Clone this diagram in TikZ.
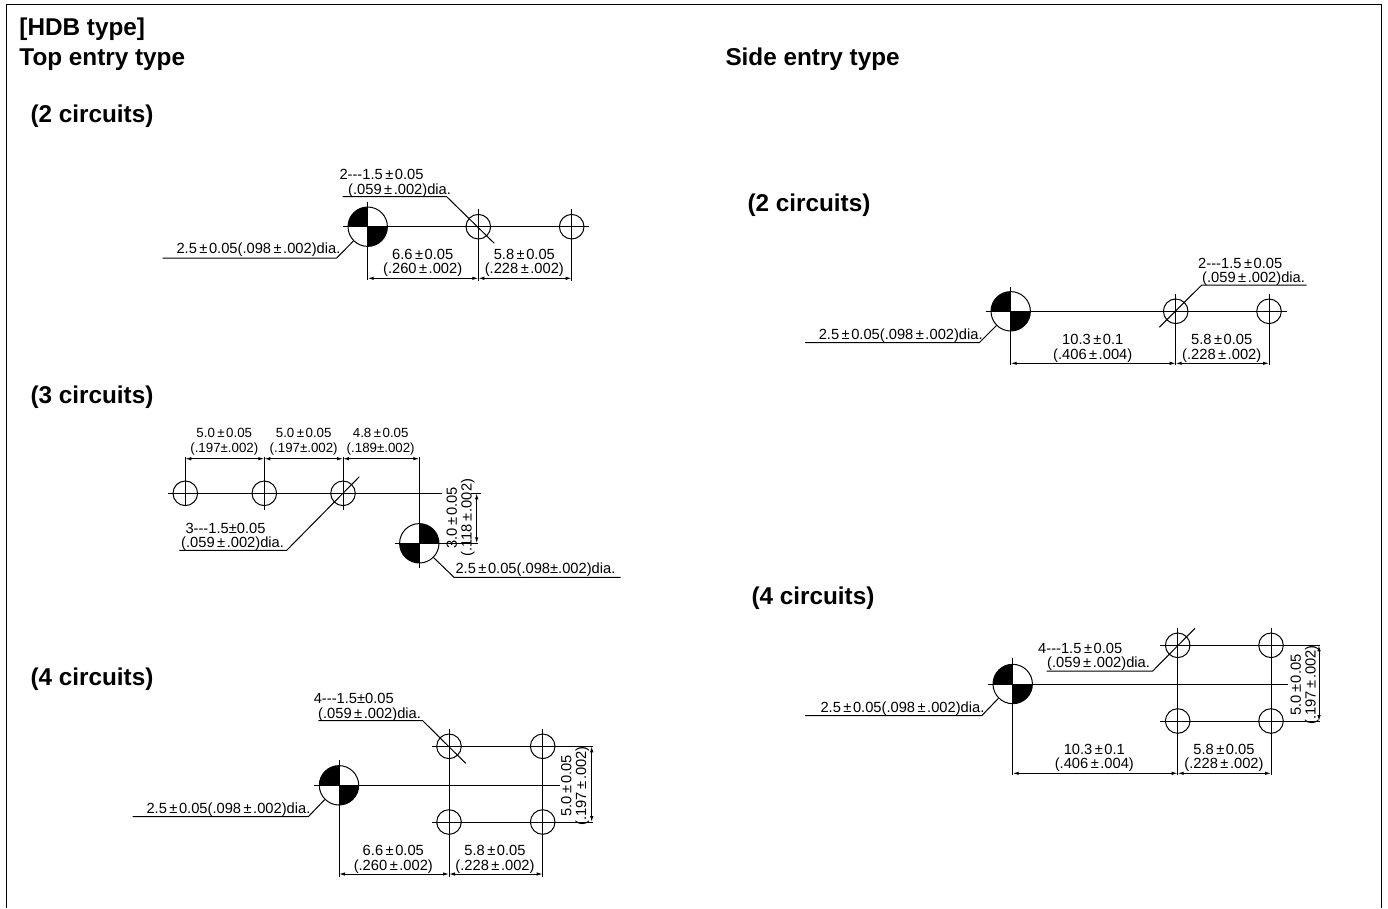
\documentclass[tikz,border=0pt]{standalone}
\usepackage{fontspec}
\setmainfont{Liberation Sans}
\usetikzlibrary{arrows.meta}
\tikzstyle{hole}=[circle, draw, inner sep=0pt, minimum size=24.6pt]
\tikzstyle{datum}=[circle, draw, inner sep=0pt, minimum size=39.4pt]
\tikzstyle{datumtl}=[datum, path picture={
  \fill (path picture bounding box.center) rectangle (path picture bounding box.north west);
  \fill (path picture bounding box.center) rectangle (path picture bounding box.south east);}]
\tikzstyle{datumtr}=[datum, path picture={
  \fill (path picture bounding box.center) rectangle (path picture bounding box.north east);
  \fill (path picture bounding box.center) rectangle (path picture bounding box.south west);}]
\tikzstyle{heading}=[anchor=base west, inner sep=0pt, font=\fontsize{24.3}{24.3}\selectfont\bfseries]
\tikzstyle{vertext}=[inner sep=0pt, align=center, rotate=90, font=\fontsize{14.7}{14.7}\selectfont]
\tikzstyle{dimtext}=[inner sep=0pt, align=center, yshift=-1.5pt, font=\fontsize{14.7}{14.7}\selectfont]
\tikzstyle{smalltext}=[dimtext, font=\fontsize{13.3}{14.7}\selectfont]
\tikzstyle{lefttext}=[dimtext, anchor=west]
\tikzstyle{dimline}=[{Latex[length=6pt,width=3.5pt]}-{Latex[length=6pt,width=3.5pt]}]
\newcommand{\hole}{\node[hole]}
\newcommand{\pmk}{\kern2.5pt±\kern1.5pt}
\newcommand{\tri}{-{}-{}-}
\begin{document}
\begin{tikzpicture}[x=1pt, y=-1pt, line width=1pt]
\useasboundingbox (0,0) rectangle (1388,908);
% frame
\coordinate (fa) at (6,908);
\coordinate (fb) at (6,4.5);
\coordinate (fc) at (1381.3,4.5);
\coordinate (fd) at (1381.3,908);
\draw (fa) -- (fb) -- (fc) -- (fd);
% headings
\node[heading] (hdb) at (19,35) {[HDB type]};
\node[heading] (top) at (19,65) {Top entry type};
\node[heading] (side) at (725,65) {Side entry type};
\node[heading] (ta) at (30,122.5) {(2 circuits)};
\node[heading] (tb) at (30,403) {(3 circuits)};
\node[heading] (tc) at (30,685) {(4 circuits)};
\node[heading] (sa) at (747,211) {(2 circuits)};
\node[heading] (sc) at (751,604) {(4 circuits)};

% top entry, 2 circuits
\node[datumtl] (a0) at (367.7,226.7) {};
\hole (a1) at (478.3,226.7) {};
\hole (a2) at (571.7,226.7) {};
\coordinate (acl) at (342.7,226.7);
\coordinate (acr) at (589.3,226.7);
\coordinate (a0t) at (367.7,201.7);
\coordinate (a0b) at (367.7,280);
\coordinate (a1t) at (478.3,209);
\coordinate (a1b) at (478.3,281);
\coordinate (a2t) at (571.7,209);
\coordinate (a2b) at (571.7,281);
\coordinate (ad0) at (367.7,278.3);
\coordinate (ad1) at (478.3,278.3);
\coordinate (ad2) at (571.7,278.3);
\coordinate (ala) at (342.7,196.7);
\coordinate (alb) at (446.7,196.7);
\coordinate (alc) at (494.3,243.3);
\coordinate (ald) at (162.7,258);
\coordinate (ale) at (336.7,258);
\path
(acl) edge (acr)
(a0t) edge (a0b)
(a1t) edge (a1b)
(a2t) edge (a2b)
(ad0) edge[dimline] (ad1)
(ad1) edge[dimline] (ad2)
;
\draw (ala) -- (alb) -- (alc);
\draw (ald) -- (ale) -- (a0.225);
\node[lefttext] (at1) at (339,173) {2\tri1.5\pmk0.05};
\node[lefttext] (at2) at (347.7,188.7) {(.059\pmk.002)dia.};
\node[lefttext] (at3) at (176,248) {2.5\pmk0.05(.098\pmk.002)dia.};
\node[dimtext] (at4) at (422.7,261.3) {6.6\pmk0.05\\(.260\pmk.002)};
\node[dimtext] (at5) at (524.3,261.3) {5.8\pmk0.05\\(.228\pmk.002)};

% top entry, 3 circuits
\node[datumtr] (b0) at (419.3,543.3) {};
\hole (b1) at (185.3,493.3) {};
\hole (b2) at (264.3,493.3) {};
\hole (b3) at (343,493.3) {};
\coordinate (bcl) at (168.3,493.3);
\coordinate (bcr) at (441.7,493.3);
\coordinate (b1t) at (185.3,456.7);
\coordinate (b1b) at (185.3,506);
\coordinate (b2t) at (264.3,456.7);
\coordinate (b2b) at (264.3,510);
\coordinate (b3t) at (343,456.7);
\coordinate (b3b) at (343,510);
\coordinate (b0t) at (419.3,456.7);
\coordinate (b0b) at (419.3,568);
\coordinate (b0l) at (395,543.3);
\coordinate (b0r) at (478.3,543.3);
\coordinate (bd0) at (185.3,458.7);
\coordinate (bd1) at (264.3,458.7);
\coordinate (bd2) at (343,458.7);
\coordinate (bd3) at (419.3,458.7);
\coordinate (bv1) at (476.7,493.3);
\coordinate (bv2) at (476.7,543.3);
\coordinate (bva) at (471,493.3);
\coordinate (bvb) at (481,493.3);
\coordinate (bla) at (179.3,550.3);
\coordinate (blb) at (286.7,550.3);
\coordinate (blc) at (359.3,476.7);
\coordinate (bld) at (620.7,577.3);
\coordinate (ble) at (454,577.3);
\path
(bcl) edge (bcr)
(b1t) edge (b1b)
(b2t) edge (b2b)
(b3t) edge (b3b)
(b0t) edge (b0b)
(b0l) edge (b0r)
(bva) edge (bvb)
(bd0) edge[dimline] (bd1)
(bd1) edge[dimline] (bd2)
(bd2) edge[dimline] (bd3)
(bv1) edge[dimline] (bv2)
;
\draw (bla) -- (blb) -- (blc);
\draw (bld) -- (ble) -- (b0.315);
\node[smalltext] (bt1) at (224.3,440) {5.0\pmk0.05\\(.197±.002)};
\node[smalltext] (bt2) at (303.7,440) {5.0\pmk0.05\\(.197±.002)};
\node[smalltext] (bt3) at (380.7,440) {4.8\pmk0.05\\(.189±.002)};
\node[lefttext] (bt4) at (185,527.3) {3\tri1.5±0.05};
\node[lefttext] (bt5) at (180.7,542.3) {(.059\pmk.002)dia.};
\node[lefttext] (bt6) at (455,568) {2.5\pmk0.05(.098±.002)dia.};
\node[vertext] (bt7) at (460.7,517.8) {3.0\pmk0.05\\(.118\pmk.002)};

% top entry, 4 circuits
\node[datumtl] (c0) at (339,785.3) {};
\hole (c1) at (449,746.3) {};
\hole (c2) at (542.7,746.3) {};
\hole (c3) at (449,822) {};
\hole (c4) at (542.7,822) {};
\coordinate (ccl) at (314.3,785.3);
\coordinate (ccr) at (560,785.3);
\coordinate (c1l) at (431.7,746.3);
\coordinate (c1r) at (593.3,746.3);
\coordinate (c3l) at (431.7,822);
\coordinate (c3r) at (593.3,822);
\coordinate (c0t) at (339,760);
\coordinate (c0b) at (339,876.7);
\coordinate (c1t) at (449,729.3);
\coordinate (c1b) at (449,876.7);
\coordinate (c2t) at (542.7,729.3);
\coordinate (c2b) at (542.7,876.7);
\coordinate (cd0) at (339,874);
\coordinate (cd1) at (449,874);
\coordinate (cd2) at (542.7,874);
\coordinate (cv1) at (591.7,746.3);
\coordinate (cv2) at (591.7,822);
\coordinate (cla) at (318.3,720.7);
\coordinate (clb) at (422.7,720.7);
\coordinate (clc) at (465.7,763.3);
\coordinate (cld) at (132.7,816.7);
\coordinate (cle) at (308.3,816.7);
\path
(ccl) edge (ccr)
(c1l) edge (c1r)
(c3l) edge (c3r)
(c0t) edge (c0b)
(c1t) edge (c1b)
(c2t) edge (c2b)
(cd0) edge[dimline] (cd1)
(cd1) edge[dimline] (cd2)
(cv1) edge[dimline] (cv2)
;
\draw (cla) -- (clb) -- (clc);
\draw (cld) -- (cle) -- (c0.225);
\node[lefttext] (ct1) at (313.3,697.3) {4\tri1.5±0.05};
\node[lefttext] (ct2) at (317.7,712.7) {(.059\pmk.002)dia.};
\node[lefttext] (ct3) at (146,808.3) {2.5\pmk0.05(.098\pmk.002)dia.};
\node[dimtext] (ct4) at (393.3,858) {6.6\pmk0.05\\(.260\pmk.002)};
\node[dimtext] (ct5) at (495,858) {5.8\pmk0.05\\(.228\pmk.002)};
\node[vertext] (ct6) at (575.2,785.8) {5.0\pmk0.05\\(.197\pmk.002)};

% side entry, 2 circuits
\node[datumtl] (d0) at (1010.7,311.3) {};
\hole (d1) at (1175.7,311.3) {};
\hole (d2) at (1269,311.3) {};
\coordinate (dcl) at (985.7,311.3);
\coordinate (dcr) at (1286.7,311.3);
\coordinate (d0t) at (1010.7,286.7);
\coordinate (d0b) at (1010.7,365);
\coordinate (d1t) at (1175.7,294);
\coordinate (d1b) at (1175.7,365);
\coordinate (d2t) at (1269,294);
\coordinate (d2b) at (1269,365);
\coordinate (dd0) at (1010.7,363.3);
\coordinate (dd1) at (1175.7,363.3);
\coordinate (dd2) at (1269,363.3);
\coordinate (dla) at (1306.7,285);
\coordinate (dlb) at (1201.7,285);
\coordinate (dlc) at (1159.3,327.3);
\coordinate (dld) at (805,342.7);
\coordinate (dle) at (979.3,342.7);
\path
(dcl) edge (dcr)
(d0t) edge (d0b)
(d1t) edge (d1b)
(d2t) edge (d2b)
(dd0) edge[dimline] (dd1)
(dd1) edge[dimline] (dd2)
;
\draw (dla) -- (dlb) -- (dlc);
\draw (dld) -- (dle) -- (d0.225);
\node[lefttext] (dt1) at (1197.7,261.7) {2\tri1.5\pmk0.05};
\node[lefttext] (dt2) at (1201.7,276.7) {(.059\pmk.002)dia.};
\node[lefttext] (dt3) at (818.3,334) {2.5\pmk0.05(.098\pmk.002)dia.};
\node[dimtext] (dt4) at (1092.7,346.8) {10.3\pmk0.1\\(.406\pmk.004)};
\node[dimtext] (dt5) at (1221.7,346.8) {5.8\pmk0.05\\(.228\pmk.002)};

% side entry, 4 circuits
\node[datumtl] (e0) at (1012.7,684) {};
\hole (e1) at (1177.7,645.3) {};
\hole (e2) at (1271,645.3) {};
\hole (e3) at (1177.7,721) {};
\hole (e4) at (1271,721) {};
\coordinate (ecl) at (988.3,684);
\coordinate (ecr) at (1288.3,684);
\coordinate (e1l) at (1160,645.3);
\coordinate (e1r) at (1320,645.3);
\coordinate (e3l) at (1160,721);
\coordinate (e3r) at (1320,721);
\coordinate (e0t) at (1012.7,658.3);
\coordinate (e0b) at (1012.7,775);
\coordinate (e1t) at (1177.7,628.3);
\coordinate (e1b) at (1177.7,775);
\coordinate (e2t) at (1271,628.3);
\coordinate (e2b) at (1271,775);
\coordinate (ed0) at (1012.7,773.3);
\coordinate (ed1) at (1177.7,773.3);
\coordinate (ed2) at (1271,773.3);
\coordinate (ev1) at (1319,645.3);
\coordinate (ev2) at (1319,721);
\coordinate (ela) at (1046.7,671);
\coordinate (elb) at (1152.7,671);
\coordinate (elc) at (1195,628.3);
\coordinate (eld) at (805,715.7);
\coordinate (ele) at (981.7,715.7);
\path
(ecl) edge (ecr)
(e1l) edge (e1r)
(e3l) edge (e3r)
(e0t) edge (e0b)
(e1t) edge (e1b)
(e2t) edge (e2b)
(ed0) edge[dimline] (ed1)
(ed1) edge[dimline] (ed2)
(ev1) edge[dimline] (ev2)
;
\draw (ela) -- (elb) -- (elc);
\draw (eld) -- (ele) -- (e0.225);
\node[lefttext] (et1) at (1037.7,647.3) {4\tri1.5\pmk0.05};
\node[lefttext] (et2) at (1046.7,661.7) {(.059\pmk.002)dia.};
\node[lefttext] (et3) at (820,706.7) {2.5\pmk0.05(.098\pmk.002)dia.};
\node[dimtext] (et4) at (1094.3,756.3) {10.3\pmk0.1\\(.406\pmk.004)};
\node[dimtext] (et5) at (1224,756.3) {5.8\pmk0.05\\(.228\pmk.002)};
\node[vertext] (et6) at (1304.7,685) {5.0\pmk0.05\\(.197\pmk.002)};
\end{tikzpicture}
\end{document}
